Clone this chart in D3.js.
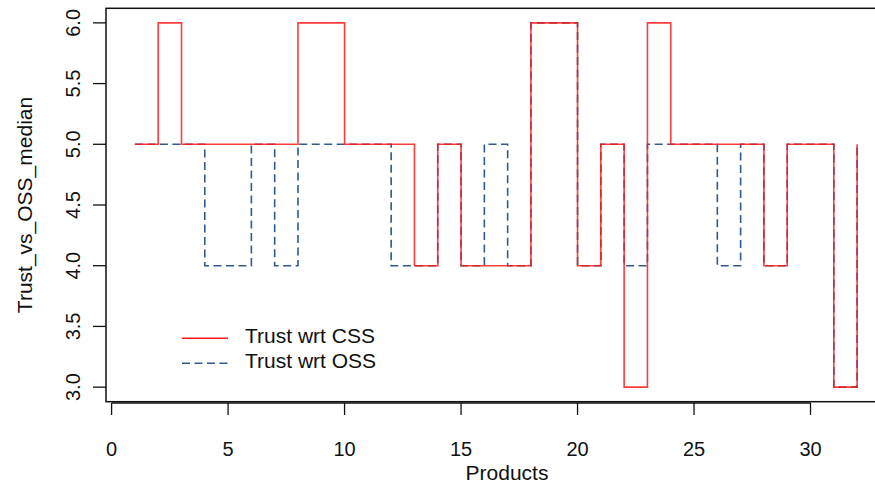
<!DOCTYPE html>
<html lang="en">
<head>
    <meta charset="utf-8">
    <script src="https://d3js.org/d3.v7.min.js"></script>
    <style>
        body { margin: 0; background: white; }
        svg { display: block; }
        text { font-family: "Liberation Sans", Arial, sans-serif; fill: #111; }
    </style>
</head>
<body>
    <svg id="chart" width="875" height="485"></svg>

    <script>
    // products 1..32
    const products = d3.range(1, 33);
    const trustCSS = [5, 6, 5, 5, 5, 5, 5, 6, 6, 5, 5, 5, 4, 5, 4, 4, 4, 6, 6, 4, 5, 3, 6, 5, 5, 5, 5, 4, 5, 5, 3, 5];
    const trustOSS = [5, 5, 5, 4, 4, 5, 4, 5, 5, 5, 5, 4, 4, 5, 4, 5, 4, 6, 6, 4, 5, 4, 5, 5, 5, 4, 5, 4, 5, 5, 3, 5];
    const xTicks = [0, 5, 10, 15, 20, 25, 30];
    const yTicks = [3.0, 3.5, 4.0, 4.5, 5.0, 5.5, 6.0];
    const legendLabels = ["Trust wrt CSS", "Trust wrt OSS"];

    const svg = d3.select("#chart");

    const box = {left: 106, right: 886, top: 8.3, bottom: 401.7};

    // R style 4% padding on both axes
    const xScale = d3.scaleLinear()
        .domain([-0.24, 33.24])
        .range([box.left, box.right]);
    const yScale = d3.scaleLinear()
        .domain([2.88, 6.12])
        .range([box.bottom, box.top]);

    const stepLine = d3.line()
        .x((d, i) => xScale(products[i]))
        .y(d => yScale(d))
        .curve(d3.curveStepAfter);

    // OSS first, CSS drawn on top
    svg.append("path")
        .datum(trustOSS)
        .attr("d", stepLine)
        .attr("fill", "none")
        .attr("stroke", "#2f5a8c")
        .attr("stroke-width", 1.6)
        .attr("stroke-dasharray", "8,4.5");

    svg.append("path")
        .datum(trustCSS)
        .attr("d", stepLine)
        .attr("fill", "none")
        .attr("stroke", "#ff1a1a")
        .attr("stroke-opacity", 0.85)
        .attr("stroke-width", 1.6);

    // plot box
    svg.append("rect")
        .attr("x", box.left)
        .attr("y", box.top)
        .attr("width", box.right - box.left)
        .attr("height", box.bottom - box.top)
        .attr("fill", "none")
        .attr("stroke", "#111")
        .attr("stroke-width", 1.5);

    // x axis
    const xAxis = svg.append("g");
    xAxis.append("line")
        .attr("x1", xScale(0)).attr("x2", xScale(30))
        .attr("y1", 403).attr("y2", 403)
        .attr("stroke", "#111").attr("stroke-width", 1.5);
    xTicks.forEach(t => {
        xAxis.append("line")
            .attr("x1", xScale(t)).attr("x2", xScale(t))
            .attr("y1", 403).attr("y2", 415)
            .attr("stroke", "#111").attr("stroke-width", 1.3);
        xAxis.append("text")
            .attr("x", xScale(t))
            .attr("y", 456)
            .attr("text-anchor", "middle")
            .style("font-size", "20px")
            .text(t);
    });

    // y axis
    const yAxis = svg.append("g");
    yTicks.forEach(t => {
        yAxis.append("line")
            .attr("x1", 93).attr("x2", box.left)
            .attr("y1", yScale(t)).attr("y2", yScale(t))
            .attr("stroke", "#111").attr("stroke-width", 1.3);
        yAxis.append("text")
            .attr("transform", `translate(80,${yScale(t)}) rotate(-90)`)
            .attr("text-anchor", "middle")
            .style("font-size", "20px")
            .text(t.toFixed(1));
    });

    // axis titles
    svg.append("text")
        .attr("x", 507)
        .attr("y", 480)
        .attr("text-anchor", "middle")
        .style("font-size", "21px")
        .text("Products");

    svg.append("text")
        .attr("transform", "translate(32,205) rotate(-90)")
        .attr("text-anchor", "middle")
        .style("font-size", "21px")
        .text("Trust_vs_OSS_median");

    // legend
    const legend = svg.append("g");
    legendLabels.forEach((label, i) => {
        const y = 338.3 + i * 25;
        legend.append("line")
            .attr("x1", 182).attr("x2", 228)
            .attr("y1", y).attr("y2", y)
            .attr("stroke", i === 0 ? "#ff1a1a" : "#2f5a8c")
            .attr("stroke-width", 1.6)
            .attr("stroke-dasharray", i === 0 ? null : "8,4.5");
        legend.append("text")
            .attr("x", 245)
            .attr("y", y + 4.5)
            .style("font-size", "21px")
            .text(label);
    });
    </script>
</body>
</html>
